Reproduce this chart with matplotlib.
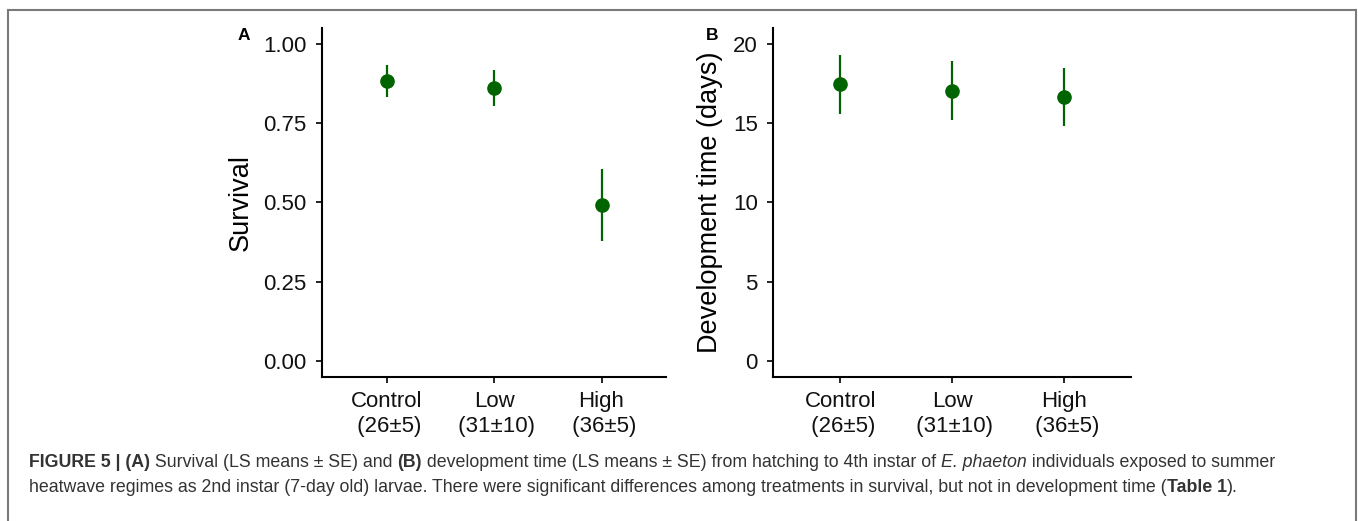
import matplotlib
matplotlib.use("Agg")
import matplotlib.pyplot as plt
from matplotlib import font_manager
from matplotlib.lines import Line2D

# data (LS means with SE limits)
treatments = ["Control\n (26±5)", "Low\n (31±10)", "High\n (36±5)"]
survival_mean = [0.882, 0.860, 0.492]
survival_lo = [0.832, 0.803, 0.379]
survival_hi = [0.934, 0.918, 0.606]
devtime_mean = [17.44, 17.04, 16.63]
devtime_lo = [15.58, 15.20, 14.81]
devtime_hi = [19.28, 18.90, 18.46]

W, H = 1358, 521
GREEN = "#006400"

plt.rcParams['font.family'] = ['Liberation Sans', 'DejaVu Sans']

fig = plt.figure(figsize=(W / 100, H / 100), dpi=100)


def px_axes(left, right, top, bottom):
    return fig.add_axes([left / W, 1 - bottom / H, (right - left) / W, (bottom - top) / H])


def style(ax, ylabel, yticks, ylim):
    ax.set_xlim(-0.6, 2.6)
    ax.set_ylim(*ylim)
    ax.set_xticks(range(len(treatments)))
    ax.set_xticklabels(treatments, fontsize=16, color="#111111", linespacing=1.25)
    ax.set_yticks(yticks)
    for s in ["top", "right"]:
        ax.spines[s].set_visible(False)
    for s in ["left", "bottom"]:
        ax.spines[s].set_linewidth(1.5)
    ax.tick_params(axis="both", length=4.5, width=1.2, labelsize=16,
                   labelcolor="#111111")
    ax.tick_params(axis="x", pad=5.5)
    ax.tick_params(axis="y", pad=6.5)
    ax.set_ylabel(ylabel, fontsize=19.5, labelpad=7)


def draw(ax, mean, lo, hi):
    x = range(len(mean))
    ax.vlines(x, lo, hi, color=GREEN, linewidth=1.6)
    ax.plot(x, mean, "o", color=GREEN, markersize=9.5, linestyle="none")


axA = px_axes(322, 666, 28, 377)
draw(axA, survival_mean, survival_lo, survival_hi)
style(axA, "Survival", [0, 0.25, 0.5, 0.75, 1.0], (-0.05, 1.05))
axA.set_yticklabels(["0.00", "0.25", "0.50", "0.75", "1.00"])

axB = px_axes(773, 1131, 28, 377)
draw(axB, devtime_mean, devtime_lo, devtime_hi)
style(axB, "Development time (days)", [0, 5, 10, 15, 20], (-1, 21))

fig.text(244 / W, 1 - 35.5 / H, "A", fontsize=12.5, fontweight="bold",
         ha="center", va="center")
fig.text(712 / W, 1 - 35.5 / H, "B", fontsize=12.5, fontweight="bold",
         ha="center", va="center")

# frame around figure + caption
frame = "#7a7a7a"
for xs, ys in [([8, 8], [10, H + 5]), ([8, 1356], [10, 10]), ([1356, 1356], [10, H + 5])]:
    fig.add_artist(Line2D([x / W for x in xs], [1 - y / H for y in ys],
                          color=frame, linewidth=1.5))

# caption with bold / italic runs
names = {f.name for f in font_manager.fontManager.ttflist}
cap_family = "Liberation Sans Narrow" if "Liberation Sans Narrow" in names else "Liberation Sans"
cap_color = "#333333"

line1 = [("FIGURE 5 | (A)", "bold", "normal"),
         (" Survival (LS means ± SE) and ", "normal", "normal"),
         ("(B)", "bold", "normal"),
         (" development time (LS means ± SE) from hatching to 4th instar of ", "normal", "normal"),
         ("E. phaeton", "normal", "italic"),
         (" individuals exposed to summer", "normal", "normal")]
line2 = [("heatwave regimes as 2nd instar (7-day old) larvae. There were significant "
          "differences among treatments in survival, but not in development time (", "normal", "normal"),
         ("Table 1", "bold", "normal"),
         (").", "normal", "normal")]

renderer = fig.canvas.get_renderer()


def rich_line(parts, x0, y, size):
    x = x0
    for txt, wt, st in parts:
        t = fig.text(x / W, 1 - y / H, txt, fontsize=size, fontweight=wt,
                     fontstyle=st, family=cap_family, color=cap_color,
                     ha="left", va="baseline")
        bb = t.get_window_extent(renderer)
        x = x + bb.width
    return x


# pick the size so that the first line spans the measured width
size = 14
end = rich_line(line1, 29, -100, size)
size = size * (1283 - 29) / (end - 29)
for t in list(fig.texts)[2:]:
    t.remove()

rich_line(line1, 29, 467, size)
rich_line(line2, 29, 492, size)

fig.savefig("out.png", dpi=100)
